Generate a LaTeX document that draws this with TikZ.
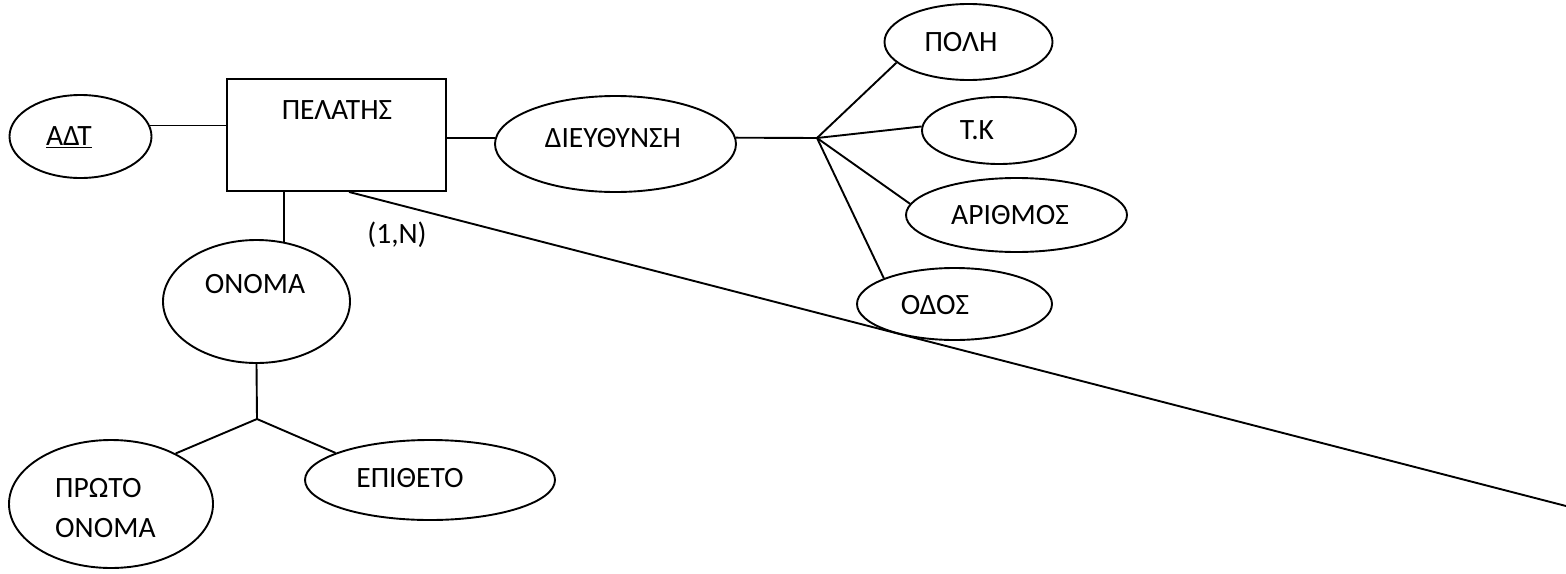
\documentclass[tikz,border=0pt]{standalone}
\usepackage{fontspec}
\setmainfont{Carlito}
\usetikzlibrary{shapes.geometric}
\begin{document}
\begin{tikzpicture}[x=1pt,y=-1pt,
  every node/.style={font=\fontsize{29.5}{40}\selectfont},
  conn/.style={line width=1.9pt,black},
  attr/.style={ellipse,draw,line width=1.9pt,inner sep=0pt},
  entity/.style={rectangle,draw,line width=1.9pt,inner sep=0pt},
  lbl/.style={inner sep=0pt}]
\useasboundingbox (0,0) rectangle (1566,573);
% shapes
\node[entity,minimum width=219pt,minimum height=112pt] (pel) at (336.5,135) {};
\node[attr,minimum width=142pt,minimum height=83pt] (adt) at (80.5,136.5) {};
\node[attr,minimum width=241pt,minimum height=96pt] (die) at (615.5,144) {};
\node[attr,minimum width=168pt,minimum height=76pt] (polh) at (968.5,42) {};
\node[attr,minimum width=154pt,minimum height=67pt] (tk) at (999,130.5) {};
\node[attr,minimum width=221pt,minimum height=74pt] (arith) at (1016.5,215) {};
\node[attr,minimum width=195pt,minimum height=72pt] (odos) at (954.5,304) {};
\node[attr,minimum width=187pt,minimum height=123pt] (onoma) at (256.5,301.5) {};
\node[attr,minimum width=204pt,minimum height=128pt] (proto) at (111,504) {};
\node[attr,minimum width=250pt,minimum height=80pt] (epi) at (430,480) {};
% texts
\node[lbl] (tpel) at (337,110) {ΠΕΛΑΤΗΣ};
\node[lbl] (tadt) at (69,137) {\underline{ΑΔΤ}};
\node[lbl] (tdie) at (613,138) {ΔΙΕΥΘΥΝΣΗ};
\node[lbl] (tpolh) at (961,42) {ΠΟΛΗ};
\node[lbl] (ttk) at (977,130) {Τ.Κ};
\node[lbl] (tarith) at (1010,215) {ΑΡΙΘΜΟΣ};
\node[lbl] (todos) at (935,305) {ΟΔΟΣ};
\node[lbl] (tonoma) at (255,284) {ΟΝΟΜΑ};
\node[lbl,anchor=west,align=left] (tproto) at (55,508) {ΠΡΩΤΟ\\ΟΝΟΜΑ};
\node[lbl] (tepi) at (410,478) {ΕΠΙΘΕΤΟ};
\node[lbl] (card) at (397,235) {(1,N)};
% junctions
\coordinate (J) at (817,138);
\coordinate (K) at (257,419);
\coordinate (E) at (1566,506);
% connectors
\draw[conn] (adt.9) -- (adt.9 -| pel.west);
\draw[conn] (die.177 -| pel.east) -- (die.177);
\draw[conn] (die.3) -- (J);
\draw[conn] (J) -- (polh.196);
\draw[conn] (J) -- (tk.177);
\draw[conn] (J) -- (arith.174);
\draw[conn] (J) -- (odos.160);
\draw[conn] (onoma.65 |- pel.south) -- (onoma.65);
\draw[conn] (onoma.south) -- (K);
\draw[conn] (K) -- (proto.38);
\draw[conn] (K) -- (epi.164);
\draw[conn] ([xshift=12.5pt]pel.south) -- (E);
\end{tikzpicture}
\end{document}
